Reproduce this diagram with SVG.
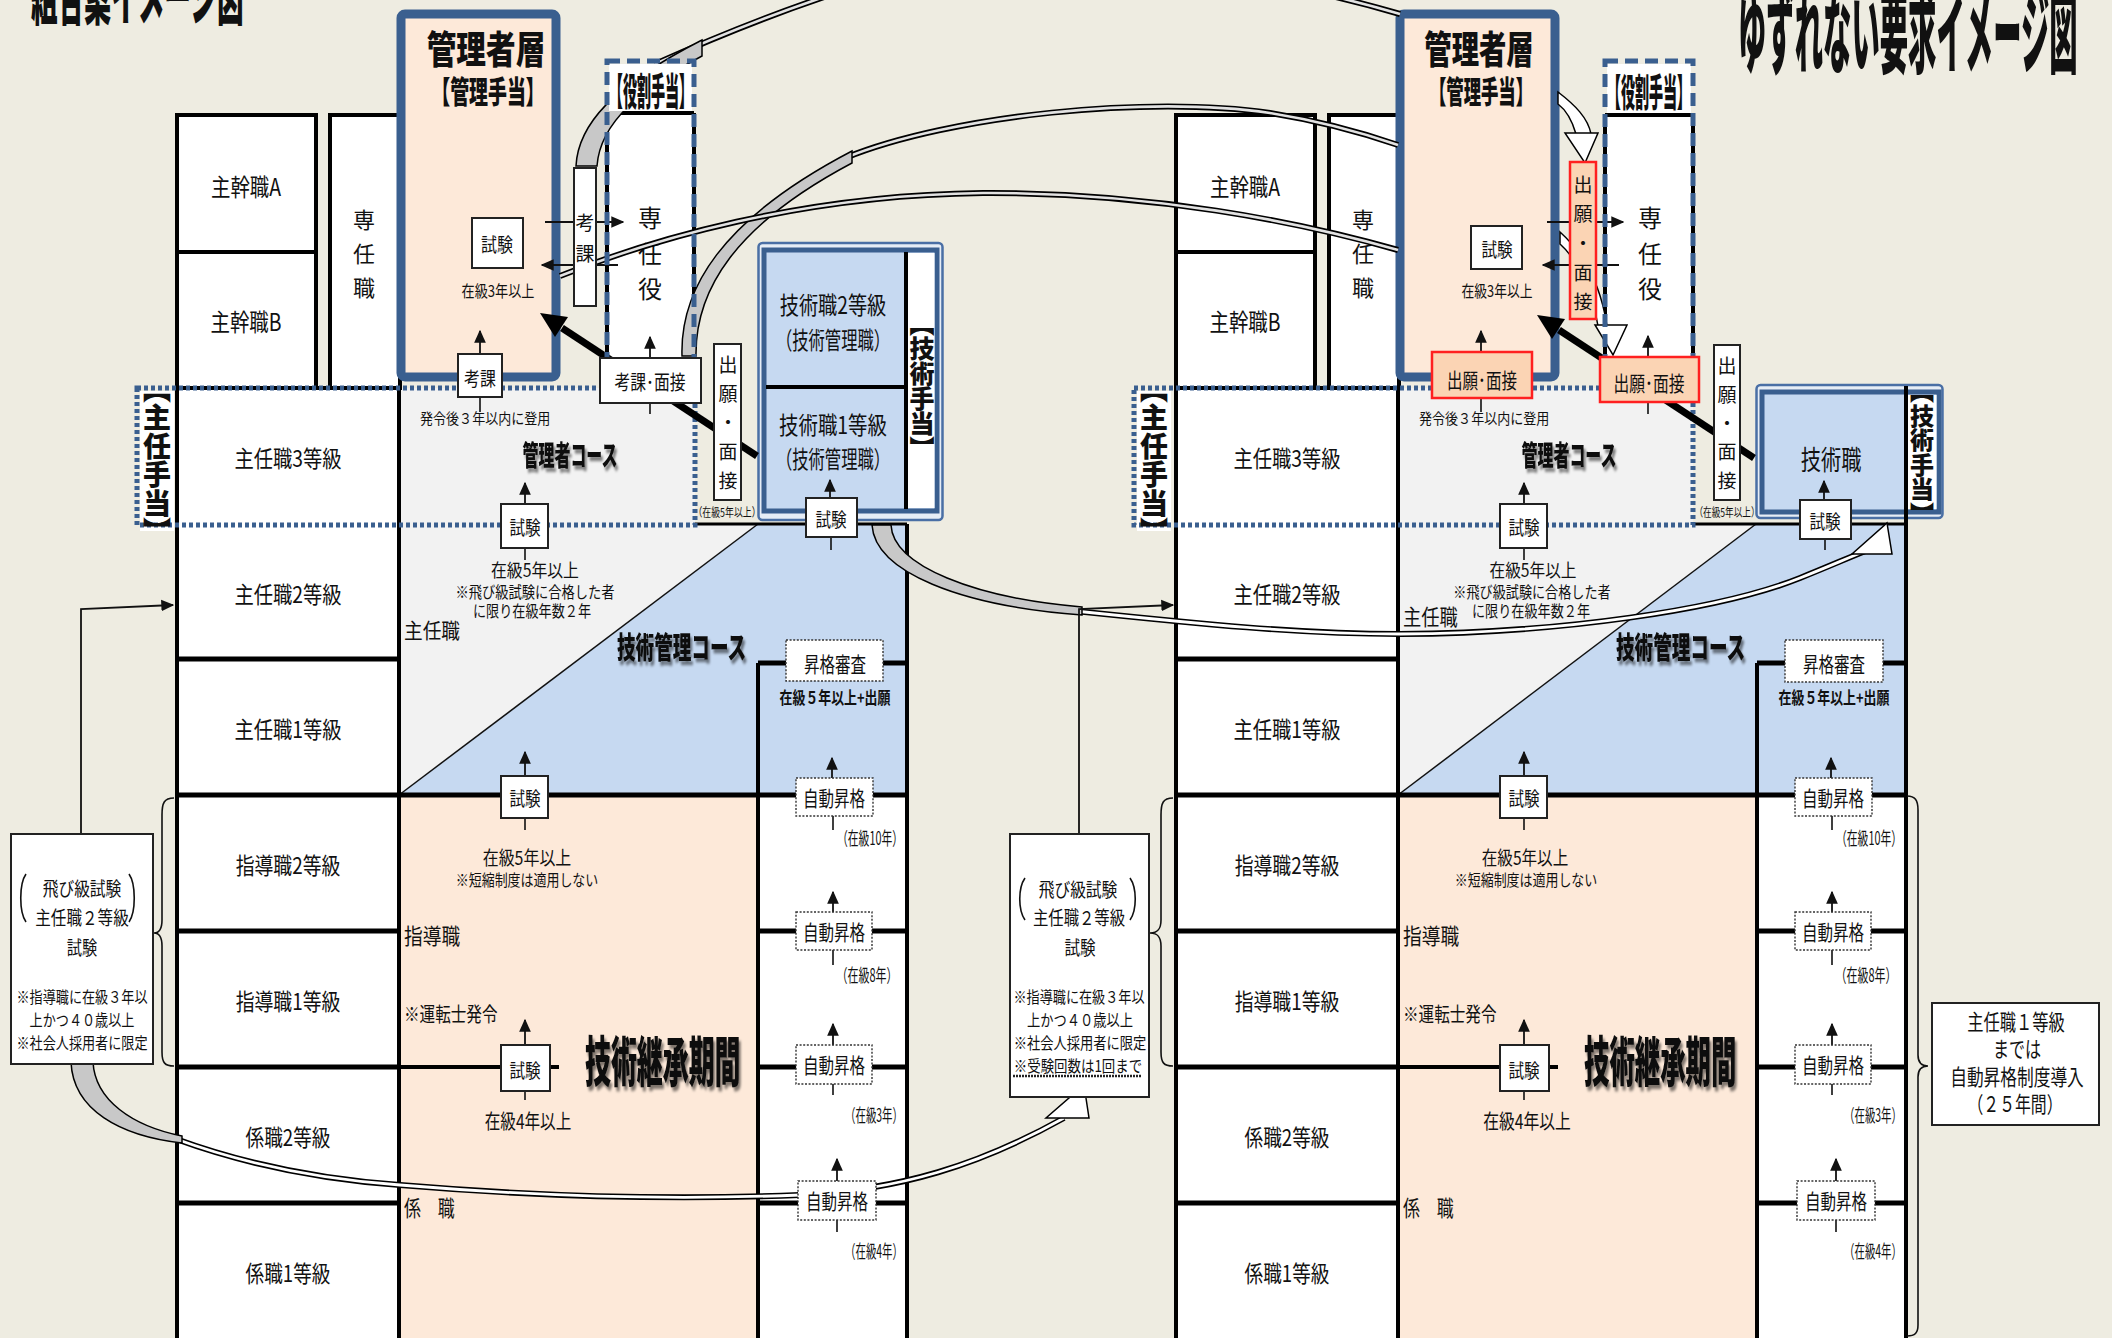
<svg xmlns="http://www.w3.org/2000/svg" width="2112" height="1338" viewBox="0 0 2112 1338">
<defs>
<style>
.t{font-family:'Noto Sans CJK JP','Noto Sans CJK SC',sans-serif;fill:#111;}
.m{text-anchor:middle;}
.v{writing-mode:vertical-rl;text-orientation:upright;}
.h{font-weight:900;}
.b7{font-weight:700;}
.bx{fill:#fff;stroke:#222;stroke-width:2;}
.bk{fill:#fff;stroke:#000;stroke-width:4;}
.dbx{fill:#fff;stroke:#333;stroke-width:1.4;stroke-dasharray:2 1.6;}
.ln{stroke:#111;stroke-width:1.6;fill:none;}
.arw{stroke:#111;stroke-width:1.8;fill:none;marker-end:url(#ah);}
.dot{fill:none;stroke:#3A5F8F;stroke-width:5;stroke-dasharray:4 3;}
.dash{fill:none;stroke:#3A5F8F;stroke-width:5;stroke-dasharray:13 7;}
.mgr{fill:#FDE9D9;stroke:#3A5F8F;stroke-width:9;}
.red{fill:#FBD4B4;stroke:#FF2020;stroke-width:2.5;}
.ao{fill:none;stroke:#000;stroke-width:6;}
.ai{fill:none;stroke:#E2E2E2;stroke-width:2.6;}
.aw{fill:none;stroke:#fff;stroke-width:2.8;}
.band{fill:#C8C8C8;stroke:#000;stroke-width:1.5;}
.wb{fill:#fff;stroke:#000;stroke-width:1.5;}
.thk{stroke:#000;stroke-width:5;fill:none;}
</style>
<marker id="ah" viewBox="0 0 10 10" refX="9" refY="5" markerWidth="13" markerHeight="13" markerUnits="userSpaceOnUse" orient="auto"><path d="M0,0.5 L10,5 L0,9.5 z" fill="#111"/></marker>
<filter id="shd" x="-5%" y="-25%" width="115%" height="170%">
<feGaussianBlur in="SourceAlpha" stdDeviation="1.8"/>
<feOffset dx="4" dy="4" result="o"/>
<feComponentTransfer in="o" result="s"><feFuncA type="linear" slope="0.5"/></feComponentTransfer>
<feMerge><feMergeNode in="s"/><feMergeNode in="SourceGraphic"/></feMerge>
</filter>
</defs>
<rect width="2112" height="1338" fill="#EEECE1"/>

<g id="titles">
<text class="t h" font-size="62" transform="translate(31 20) scale(0.43 1)">組合案イメージ図</text>
<text class="t h" font-size="90" transform="translate(1738 66) scale(0.315 1)">ゆずれない要求イメージ図</text>
</g>

<!-- ================= regions ================= -->
<g id="L-regions">
<polygon points="399,388 695,388 695,524 758,524 399,795" fill="#F2F2F2"/>
<polygon points="399,795 758,524 907,524 907,795" fill="#C6D9F1"/>
<line x1="399" y1="795" x2="758" y2="524" stroke="#111" stroke-width="1.5"/>
<rect x="399" y="795" width="359" height="545" fill="#FDE9D9"/>
<rect x="758" y="795" width="149" height="545" fill="#fff"/>
<path d="M758,663V1340M907,524V1340" stroke="#000" stroke-width="4"/>
<path d="M758,663H907M758,931H907M758,1067H907M758,1203H907" class="thk"/>
<path d="M695,524H907" stroke="#000" stroke-width="3"/>
<path d="M399,1067H559" stroke="#000" stroke-width="4"/>
</g>
<g id="R-regions">
<polygon points="1398,388 1693,388 1693,524 1756,524 1398,795" fill="#F2F2F2"/>
<polygon points="1398,795 1756,524 1906,524 1906,795" fill="#C6D9F1"/>
<line x1="1398" y1="795" x2="1756" y2="524" stroke="#111" stroke-width="1.5"/>
<rect x="1398" y="795" width="359" height="545" fill="#FDE9D9"/>
<rect x="1757" y="795" width="149" height="545" fill="#fff"/>
<path d="M1757,663V1340" stroke="#000" stroke-width="4"/>
<path d="M1757,663H1906M1757,931H1906M1757,1067H1906M1757,1203H1906" class="thk"/>
<path d="M1693,524H1906" stroke="#000" stroke-width="3"/>
<path d="M1398,1067H1558" stroke="#000" stroke-width="4"/>
</g>

<!-- ================= LEFT structure ================= -->
<g id="L-shukan-a"><rect x="177" y="115" width="139" height="137" class="bk"/>
<text class="t m" font-size="24" transform="translate(246 196) scale(0.81 1)">主幹職A</text></g>
<g id="L-shukan-b"><rect x="177" y="252" width="139" height="136" class="bk"/>
<text class="t m" font-size="24" transform="translate(246 331) scale(0.81 1)">主幹職B</text></g>
<g id="L-sennin-shoku"><rect x="330" y="115" width="70" height="273" class="bk"/>
<text class="t v" x="364" y="209" font-size="22" letter-spacing="12">専任職</text></g>

<g id="L-grades">
<rect x="177" y="388" width="222" height="960" class="bk"/>
<path d="M177,659H399M177,931H399M177,1067H399M177,1203H399" class="thk"/>
<path d="M177,795H907" class="thk"/>
<text class="t m" font-size="23" transform="translate(288 467) scale(0.84 1)">主任職3等級</text>
<text class="t m" font-size="23" transform="translate(288 603) scale(0.84 1)">主任職2等級</text>
<text class="t m" font-size="23" transform="translate(288 738) scale(0.84 1)">主任職1等級</text>
<text class="t m" font-size="23" transform="translate(288 874) scale(0.82 1)">指導職2等級</text>
<text class="t m" font-size="23" transform="translate(288 1010) scale(0.82 1)">指導職1等級</text>
<text class="t m" font-size="23" transform="translate(288 1146) scale(0.81 1)">係職2等級</text>
<text class="t m" font-size="23" transform="translate(288 1282) scale(0.81 1)">係職1等級</text>
</g>

<g id="L-kanrisha">
<rect x="401" y="14" width="155" height="363" rx="4" class="mgr"/>
<text class="t m h" font-size="38" transform="translate(486 63) scale(0.78 1)">管理者層</text>
<text class="t m h" font-size="31" transform="translate(488 103) scale(0.61 1)">【管理手当】</text>
</g>

<g id="L-yakuwari-body">
<rect x="607" y="113" width="87" height="252" fill="#fff"/>
<path d="M607,113V365M694,113V365M607,113H694" stroke="#000" stroke-width="4"/>
<text class="t v" x="650" y="206" font-size="24" letter-spacing="11.5">専任役</text>
</g>

<g id="L-gijutsu">
<rect x="758.5" y="243" width="184" height="277" rx="4" fill="#E6EDF6" stroke="#4A6FA5" stroke-width="2.5"/>
<rect x="764" y="250" width="173" height="261" fill="#C6D9F1" stroke="#3A5F8F" stroke-width="5"/>
<rect x="908" y="253" width="26.5" height="255" fill="#fff"/>
<path d="M906,252V509M766,387H906" stroke="#000" stroke-width="4"/>
<text class="t m" font-size="24" transform="translate(833 314) scale(0.80 1)">技術職2等級</text>
<text class="t m" font-size="24" transform="translate(833 349) scale(0.68 1)">（技術管理職）</text>
<text class="t m" font-size="24" transform="translate(833 434) scale(0.81 1)">技術職1等級</text>
<text class="t m" font-size="24" transform="translate(833 468) scale(0.68 1)">（技術管理職）</text>
<text class="t v h" x="922" y="311" font-size="25">【技術手当】</text>
</g>

<g id="L-shunin-teate">
<rect x="140" y="391" width="34" height="140" fill="#fff"/>
<rect x="137" y="388" width="558" height="137" class="dot"/>
<text class="t v h" x="157" y="375" font-size="28" letter-spacing="0.5">【主任手当】</text>
</g>

<!-- ================= RIGHT structure ================= -->
<g id="R-shukan-a"><rect x="1176" y="115" width="139" height="137" class="bk"/>
<text class="t m" font-size="24" transform="translate(1245 196) scale(0.81 1)">主幹職A</text></g>
<g id="R-shukan-b"><rect x="1176" y="252" width="139" height="136" class="bk"/>
<text class="t m" font-size="24" transform="translate(1245 331) scale(0.81 1)">主幹職B</text></g>
<g id="R-sennin-shoku"><rect x="1329" y="115" width="70" height="273" class="bk"/>
<text class="t v" x="1363" y="209" font-size="22" letter-spacing="12">専任職</text></g>

<g id="R-grades">
<rect x="1176" y="388" width="222" height="960" class="bk"/>
<path d="M1176,659H1398M1176,931H1398M1176,1067H1398M1176,1203H1398" class="thk"/>
<path d="M1176,795H1906" class="thk"/>
<text class="t m" font-size="23" transform="translate(1287 467) scale(0.84 1)">主任職3等級</text>
<text class="t m" font-size="23" transform="translate(1287 603) scale(0.84 1)">主任職2等級</text>
<text class="t m" font-size="23" transform="translate(1287 738) scale(0.84 1)">主任職1等級</text>
<text class="t m" font-size="23" transform="translate(1287 874) scale(0.82 1)">指導職2等級</text>
<text class="t m" font-size="23" transform="translate(1287 1010) scale(0.82 1)">指導職1等級</text>
<text class="t m" font-size="23" transform="translate(1287 1146) scale(0.81 1)">係職2等級</text>
<text class="t m" font-size="23" transform="translate(1287 1282) scale(0.81 1)">係職1等級</text>
</g>

<g id="R-kanrisha">
<rect x="1400" y="14" width="155" height="363" rx="4" class="mgr"/>
<text class="t m h" font-size="38" transform="translate(1479 63) scale(0.72 1)">管理者層</text>
<text class="t m h" font-size="31" transform="translate(1481 103) scale(0.56 1)">【管理手当】</text>
</g>

<g id="R-yakuwari-body">
<rect x="1605" y="115" width="88" height="250" fill="#fff"/>
<path d="M1605,115V365M1693,115V365M1605,115H1693" stroke="#000" stroke-width="4"/>
<text class="t v" x="1650" y="206" font-size="24" letter-spacing="11.5">専任役</text>
</g>

<g id="R-gijutsu">
<rect x="1756.5" y="385" width="186" height="133" rx="4" fill="#E6EDF6" stroke="#4A6FA5" stroke-width="2.5"/>
<rect x="1762" y="392" width="177" height="120" fill="#C6D9F1" stroke="#3A5F8F" stroke-width="5"/>
<rect x="1908" y="395" width="28.5" height="114" fill="#fff"/>
<path d="M1906,386V1340" stroke="#000" stroke-width="4"/>
<text class="t m" font-size="27" transform="translate(1831 470) scale(0.75 1)">技術職</text>
<text class="t v h" x="1922" y="379" font-size="24" letter-spacing="0.5">【技術手当】</text>
</g>

<g id="R-shunin-teate">
<rect x="1137" y="391" width="34" height="140" fill="#fff"/>
<rect x="1134" y="388" width="559" height="137" class="dot"/>
<text class="t v h" x="1154" y="375" font-size="28" letter-spacing="0.5">【主任手当】</text>
</g>

<!-- ================= CONNECTORS ================= -->
<g id="connectors">
<path class="ao" d="M655,64 C720,35 770,15 830,-5 C1000,-70 1250,-30 1400,14"/>
<path class="ai" d="M655,64 C720,35 770,15 830,-5 C1000,-70 1250,-30 1400,14"/>
<path class="band" d="M576,166 C578,125 612,86 702,40 L702,56 C642,88 600,122 597,166 Z"/>
<path class="ao" d="M845,158 C950,115 1150,95 1270,113 C1320,121 1360,132 1398,145"/>
<path class="ai" d="M845,158 C950,115 1150,95 1270,113 C1320,121 1360,132 1398,145"/>
<path class="band" d="M682,356 C680,290 720,220 852,151 L852,163 C735,225 695,290 696,356 Z"/>
<path class="ao" d="M560,276 C650,240 800,195 983,193 C1150,192 1300,222 1398,250"/>
<path class="ai" d="M560,276 C650,240 800,195 983,193 C1150,192 1300,222 1398,250"/>
<path class="ao" d="M1075,611 C1200,624 1300,634 1400,634 C1560,633 1720,610 1800,578 C1830,566 1850,557 1868,550"/>
<path class="aw" d="M1075,611 C1200,624 1300,634 1400,634 C1560,633 1720,610 1800,578 C1830,566 1850,557 1868,550"/>
<path class="band" d="M872,525 C875,572 960,606 1082,615 L1082,607 C975,598 893,566 891,525 Z"/>
<polygon class="wb" points="1887,523 1892,554 1852,554"/>
<path class="ao" d="M176,1139 C250,1166 330,1180 400,1185 C520,1195 650,1201 800,1195 C900,1190 980,1165 1064,1118"/>
<path class="aw" d="M176,1139 C250,1166 330,1180 400,1185 C520,1195 650,1201 800,1195 C900,1190 980,1165 1064,1118"/>
<path class="band" d="M71,1062 C73,1110 120,1136 182,1143 L182,1136 C132,1126 95,1100 93,1062 Z"/>
<polygon class="wb" points="1084,1085 1089,1118 1046,1118"/>
<path class="wb" d="M1558,92 C1575,105 1588,118 1591,134 L1576,134 C1572,120 1566,110 1558,104 Z"/>
<polygon class="wb" points="1565,133 1598,133 1585,163"/>
<path class="wb" d="M1560,232 C1580,250 1600,280 1607,326 L1598,326 C1592,290 1578,260 1560,244 Z"/>
<polygon class="wb" points="1595,325 1627,325 1613,355"/>
<line x1="757" y1="456" x2="562" y2="328" stroke="#000" stroke-width="7"/>
<polygon points="540,313 568,317 555,337" fill="#000"/>
<line x1="1754" y1="458" x2="1559" y2="330" stroke="#000" stroke-width="7"/>
<polygon points="1537,315 1565,319 1552,339" fill="#000"/>
<path class="arw" d="M480,354V331"/><path class="arw" d="M525,503V483"/><path class="arw" d="M525,776V752"/><path class="arw" d="M525,1045V1020"/>
<path class="arw" d="M650,358V337"/><path class="arw" d="M830,498V480"/><path class="arw" d="M832,778V758"/><path class="arw" d="M833,912V892"/>
<path class="arw" d="M833,1045V1024"/><path class="arw" d="M837,1181V1159"/><path class="arw" d="M545,222H623"/><path class="arw" d="M618,265H542"/>
<path class="ln" d="M480,397V412M525,548V560M525,818V830M525,1091V1100M650,403V414M831,537V550M833,816V830M833,950V965M833,1084V1095M837,1220V1232"/>
<path class="arw" d="M81,834V609L173,605" stroke-width="3"/>
<path class="arw" d="M1481,352V331"/><path class="arw" d="M1524,503V483"/><path class="arw" d="M1524,776V752"/><path class="arw" d="M1524,1045V1020"/>
<path class="arw" d="M1648,357V336"/><path class="arw" d="M1824,499V481"/><path class="arw" d="M1831,778V758"/><path class="arw" d="M1832,912V892"/>
<path class="arw" d="M1832,1045V1024"/><path class="arw" d="M1836,1181V1159"/><path class="arw" d="M1547,222H1623"/><path class="arw" d="M1619,265H1543"/>
<path class="ln" d="M1481,398V412M1524,548V560M1524,818V830M1524,1091V1100M1648,402V414M1825,539V550M1832,816V830M1832,950V965M1832,1084V1095M1836,1220V1232"/>
<path class="arw" d="M1079,834V609L1173,605" stroke-width="3"/>
<path class="ln" d="M174,798 C164,798 162,803 162,815 L162,920 C162,929 159,933 154,933 C159,933 162,937 162,946 L162,1052 C162,1063 165,1066 174,1066"/>
<path class="ln" d="M1173,798 C1163,798 1161,803 1161,815 L1161,920 C1161,929 1158,933 1150,933 C1158,933 1161,937 1161,946 L1161,1052 C1161,1063 1164,1066 1173,1066"/>
<path class="ln" d="M1907,796 C1915,796 1918,800 1918,810 L1918,1055 C1918,1063 1922,1066 1928,1066 C1922,1066 1918,1069 1918,1077 L1918,1325 C1918,1333 1915,1336 1907,1336"/>
</g>

<!-- ================= 役割手当 labels (above connectors) ================= -->
<g id="L-yakuwari-label">
<rect x="609" y="64" width="83" height="47" fill="#fff"/>
<rect x="607" y="61" width="87" height="305" class="dash"/>
<text class="t m h" font-size="38" transform="translate(651 105) scale(0.37 1)">【役割手当】</text>
</g>
<g id="R-yakuwari-label">
<rect x="1607" y="64" width="84" height="49" fill="#fff"/>
<rect x="1605" y="61" width="88" height="305" class="dash"/>
<text class="t m h" font-size="38" transform="translate(1649 106) scale(0.37 1)">【役割手当】</text>
</g>

<!-- ================= LEFT small nodes ================= -->
<g id="L-shiken-kanri"><rect x="472" y="218" width="51" height="50" class="bx"/>
<text class="t m" font-size="19" transform="translate(497 252) scale(0.84 1)">試験</text>
<text class="t m" font-size="16" transform="translate(498 297) scale(0.82 1)">在級3年以上</text></g>
<g id="L-kouka"><rect x="458" y="354" width="44" height="43" class="bx"/>
<text class="t m" font-size="19" transform="translate(480 386) scale(0.84 1)">考課</text></g>
<g id="L-kouka-v"><rect x="574" y="168" width="22" height="138" class="bx"/>
<text class="t v" x="585" y="213.5" font-size="19" letter-spacing="12">考課</text></g>
<g id="L-kouka-mensetsu"><rect x="600" y="358" width="101" height="45" class="bx"/>
<text class="t m" font-size="20" transform="translate(650 390) scale(0.79 1)">考課･面接</text></g>
<g id="L-shutsugan-v"><rect x="714" y="344" width="27" height="156" class="bx"/>
<text class="t v" x="728" y="355.5" font-size="19" letter-spacing="10">出願・面接</text>
<text class="t m" font-size="12" transform="translate(727 517) scale(0.74 1)">（在級5年以上）</text></g>
<g id="L-shiken-gijutsu"><rect x="806" y="498" width="51" height="39" class="bx"/>
<text class="t m" font-size="19" transform="translate(831 527) scale(0.82 1)">試験</text></g>

<g id="L-area-texts">
<text class="t" font-size="15" transform="translate(420 424) scale(0.87 1)">発令後３年以内に登用</text>
<text class="t m h" font-size="28" filter="url(#shd)" transform="translate(570 466) scale(0.57 1)">管理者コース</text>
<text class="t m" font-size="18" transform="translate(535 577) scale(0.88 1)">在級5年以上</text>
<text class="t m" font-size="16" transform="translate(535 598) scale(0.83 1)">※飛び級試験に合格した者</text>
<text class="t m" font-size="16" transform="translate(532 617) scale(0.82 1)">に限り在級年数２年</text>
<text class="t" font-size="21" transform="translate(404 638) scale(0.89 1)">主任職</text>
<text class="t h" font-size="30" filter="url(#shd)" transform="translate(617 658) scale(0.62 1)">技術管理コース</text>
<text class="t m" font-size="19" transform="translate(527 865) scale(0.84 1)">在級5年以上</text>
<text class="t m" font-size="16" transform="translate(527 886) scale(0.81 1)">※短縮制度は適用しない</text>
<text class="t" font-size="22" transform="translate(404 944) scale(0.85 1)">指導職</text>
<text class="t" font-size="20" transform="translate(404 1022) scale(0.78 1)">※運転士発令</text>
<text class="t m" font-size="20" transform="translate(528 1129) scale(0.78 1)">在級4年以上</text>
<text class="t" font-size="22" transform="translate(404 1216) scale(0.77 1)">係　職</text>
<text class="t h" font-size="54" filter="url(#shd)" transform="translate(585 1082) scale(0.48 1)">技術継承期間</text>
</g>
<g id="L-shiken-shunin"><rect x="501" y="504" width="47" height="44" class="bx"/>
<text class="t m" font-size="19" transform="translate(525 535) scale(0.82 1)">試験</text></g>
<g id="L-shokaku"><rect x="786" y="640" width="97" height="41" class="dbx"/>
<text class="t m" font-size="21" transform="translate(835 672) scale(0.74 1)">昇格審査</text>
<text class="t m b7" font-size="17" transform="translate(835 704) scale(0.76 1)">在級５年以上+出願</text></g>
<g id="L-shiken-shido"><rect x="501" y="776" width="47" height="42" class="bx"/>
<text class="t m" font-size="19" transform="translate(525 806) scale(0.82 1)">試験</text></g>
<g id="L-shiken-kakari"><rect x="501" y="1045" width="49" height="46" class="bx"/>
<text class="t m" font-size="19" transform="translate(525 1078) scale(0.82 1)">試験</text></g>
<g id="L-jido1"><rect x="796" y="778" width="77" height="38" class="dbx"/>
<text class="t m" font-size="21" transform="translate(834 806) scale(0.74 1)">自動昇格</text>
<text class="t m" font-size="18" transform="translate(870 845) scale(0.6 1)">（在級10年）</text></g>
<g id="L-jido2"><rect x="796" y="912" width="76" height="38" class="dbx"/>
<text class="t m" font-size="21" transform="translate(834 940) scale(0.74 1)">自動昇格</text>
<text class="t m" font-size="18" transform="translate(867 982) scale(0.61 1)">（在級8年）</text></g>
<g id="L-jido3"><rect x="796" y="1045" width="76" height="39" class="dbx"/>
<text class="t m" font-size="21" transform="translate(834 1073) scale(0.74 1)">自動昇格</text>
<text class="t m" font-size="18" transform="translate(874 1122) scale(0.58 1)">（在級3年）</text></g>
<g id="L-jido4"><rect x="798" y="1181" width="78" height="39" class="dbx"/>
<text class="t m" font-size="21" transform="translate(837 1209) scale(0.74 1)">自動昇格</text>
<text class="t m" font-size="18" transform="translate(874 1258) scale(0.58 1)">（在級4年）</text></g>
<g id="L-tobikyu"><rect x="11" y="834" width="142" height="230" class="bx"/>
<path class="ln" d="M26,874 C19,884 19,912 26,922M129,874 C136,884 136,912 129,922"/>
<text class="t m" font-size="19" transform="translate(82 896) scale(0.83 1)">飛び級試験</text>
<text class="t m" font-size="19" transform="translate(82 925) scale(0.82 1)">主任職２等級</text>
<text class="t m" font-size="19" transform="translate(82 955) scale(0.8 1)">試験</text>
<text class="t m" font-size="16" transform="translate(82 1003) scale(0.82 1)">※指導職に在級３年以</text>
<text class="t m" font-size="16" transform="translate(82 1026) scale(0.82 1)">上かつ４０歳以上</text>
<text class="t m" font-size="16" transform="translate(82 1049) scale(0.82 1)">※社会人採用者に限定</text></g>

<!-- ================= RIGHT small nodes ================= -->
<g id="R-shiken-kanri"><rect x="1471" y="226" width="51" height="43" class="bx"/>
<text class="t m" font-size="19" transform="translate(1497 257) scale(0.82 1)">試験</text>
<text class="t m" font-size="16" transform="translate(1497 297) scale(0.80 1)">在級3年以上</text></g>
<g id="R-shutsugan-kanri"><rect x="1432" y="352" width="100" height="46" class="red"/>
<text class="t m" font-size="21" transform="translate(1482 388) scale(0.74 1)">出願･面接</text></g>
<g id="R-shutsugan-red-v"><rect x="1570" y="162" width="26" height="157" class="red"/>
<text class="t v" x="1583" y="175.5" font-size="19" letter-spacing="10.25">出願・面接</text></g>
<g id="R-shutsugan-yakuwari"><rect x="1600" y="357" width="99" height="45" class="red"/>
<text class="t m" font-size="21" transform="translate(1649 391) scale(0.75 1)">出願･面接</text></g>
<g id="R-shutsugan-v"><rect x="1714" y="345" width="26" height="155" class="bx"/>
<text class="t v" x="1727" y="356.5" font-size="19" letter-spacing="9.75">出願・面接</text>
<text class="t m" font-size="12" transform="translate(1727 517) scale(0.72 1)">（在級5年以上）</text></g>
<g id="R-shiken-gijutsu"><rect x="1800" y="500" width="51" height="39" class="bx"/>
<text class="t m" font-size="19" transform="translate(1825 529) scale(0.82 1)">試験</text></g>

<g id="R-area-texts">
<text class="t" font-size="15" transform="translate(1419 424) scale(0.87 1)">発令後３年以内に登用</text>
<text class="t m h" font-size="28" filter="url(#shd)" transform="translate(1569 466) scale(0.57 1)">管理者コース</text>
<text class="t m" font-size="18" transform="translate(1533 577) scale(0.87 1)">在級5年以上</text>
<text class="t m" font-size="16" transform="translate(1532 598) scale(0.82 1)">※飛び級試験に合格した者</text>
<text class="t m" font-size="16" transform="translate(1531 617) scale(0.82 1)">に限り在級年数２年</text>
<text class="t" font-size="22" transform="translate(1403 625) scale(0.83 1)">主任職</text>
<text class="t h" font-size="30" filter="url(#shd)" transform="translate(1616 658) scale(0.62 1)">技術管理コース</text>
<text class="t m" font-size="19" transform="translate(1525 865) scale(0.82 1)">在級5年以上</text>
<text class="t m" font-size="16" transform="translate(1526 886) scale(0.81 1)">※短縮制度は適用しない</text>
<text class="t" font-size="22" transform="translate(1403 944) scale(0.85 1)">指導職</text>
<text class="t" font-size="20" transform="translate(1403 1022) scale(0.78 1)">※運転士発令</text>
<text class="t m" font-size="20" transform="translate(1527 1129) scale(0.79 1)">在級4年以上</text>
<text class="t" font-size="22" transform="translate(1403 1216) scale(0.77 1)">係　職</text>
<text class="t h" font-size="54" filter="url(#shd)" transform="translate(1584 1082) scale(0.47 1)">技術継承期間</text>
</g>
<g id="R-shiken-shunin"><rect x="1500" y="504" width="47" height="44" class="bx"/>
<text class="t m" font-size="19" transform="translate(1524 535) scale(0.82 1)">試験</text></g>
<g id="R-shokaku"><rect x="1785" y="640" width="98" height="42" class="dbx"/>
<text class="t m" font-size="21" transform="translate(1834 672) scale(0.74 1)">昇格審査</text>
<text class="t m b7" font-size="17" transform="translate(1834 704) scale(0.76 1)">在級５年以上+出願</text></g>
<g id="R-shiken-shido"><rect x="1500" y="776" width="47" height="42" class="bx"/>
<text class="t m" font-size="19" transform="translate(1524 806) scale(0.82 1)">試験</text></g>
<g id="R-shiken-kakari"><rect x="1500" y="1045" width="49" height="46" class="bx"/>
<text class="t m" font-size="19" transform="translate(1524 1078) scale(0.82 1)">試験</text></g>
<g id="R-jido1"><rect x="1795" y="778" width="77" height="38" class="dbx"/>
<text class="t m" font-size="21" transform="translate(1833 806) scale(0.74 1)">自動昇格</text>
<text class="t m" font-size="18" transform="translate(1869 845) scale(0.6 1)">（在級10年）</text></g>
<g id="R-jido2"><rect x="1795" y="912" width="76" height="38" class="dbx"/>
<text class="t m" font-size="21" transform="translate(1833 940) scale(0.74 1)">自動昇格</text>
<text class="t m" font-size="18" transform="translate(1866 982) scale(0.61 1)">（在級8年）</text></g>
<g id="R-jido3"><rect x="1795" y="1045" width="76" height="39" class="dbx"/>
<text class="t m" font-size="21" transform="translate(1833 1073) scale(0.74 1)">自動昇格</text>
<text class="t m" font-size="18" transform="translate(1873 1122) scale(0.58 1)">（在級3年）</text></g>
<g id="R-jido4"><rect x="1797" y="1181" width="78" height="39" class="dbx"/>
<text class="t m" font-size="21" transform="translate(1836 1209) scale(0.74 1)">自動昇格</text>
<text class="t m" font-size="18" transform="translate(1873 1258) scale(0.58 1)">（在級4年）</text></g>
<g id="R-tobikyu"><rect x="1010" y="834" width="139" height="263" class="bx"/>
<path class="ln" d="M1025,878 C1018,888 1018,910 1025,920M1130,878 C1137,888 1137,910 1130,920"/>
<text class="t m" font-size="19" transform="translate(1078 897) scale(0.83 1)">飛び級試験</text>
<text class="t m" font-size="19" transform="translate(1079 925) scale(0.81 1)">主任職２等級</text>
<text class="t m" font-size="19" transform="translate(1080 955) scale(0.82 1)">試験</text>
<text class="t m" font-size="16" transform="translate(1079 1003) scale(0.82 1)">※指導職に在級３年以</text>
<text class="t m" font-size="16" transform="translate(1080 1026) scale(0.83 1)">上かつ４０歳以上</text>
<text class="t m" font-size="16" transform="translate(1080 1049) scale(0.83 1)">※社会人採用者に限定</text>
<text class="t m" font-size="16" transform="translate(1078 1072) scale(0.84 1)">※受験回数は1回まで</text>
<path d="M1013,1076H1142" stroke="#222" stroke-width="2.4" stroke-dasharray="2 1"/></g>
<g id="R-jido-note"><rect x="1932" y="1003" width="167" height="122" class="bx"/>
<text class="t m" font-size="22" transform="translate(2016 1030) scale(0.74 1)">主任職１等級</text>
<text class="t m" font-size="22" transform="translate(2017 1057) scale(0.73 1)">までは</text>
<text class="t m" font-size="22" transform="translate(2017 1085) scale(0.76 1)">自動昇格制度導入</text>
<text class="t m" font-size="22" transform="translate(2015 1112) scale(0.72 1)">（２５年間）</text></g>
</svg>
